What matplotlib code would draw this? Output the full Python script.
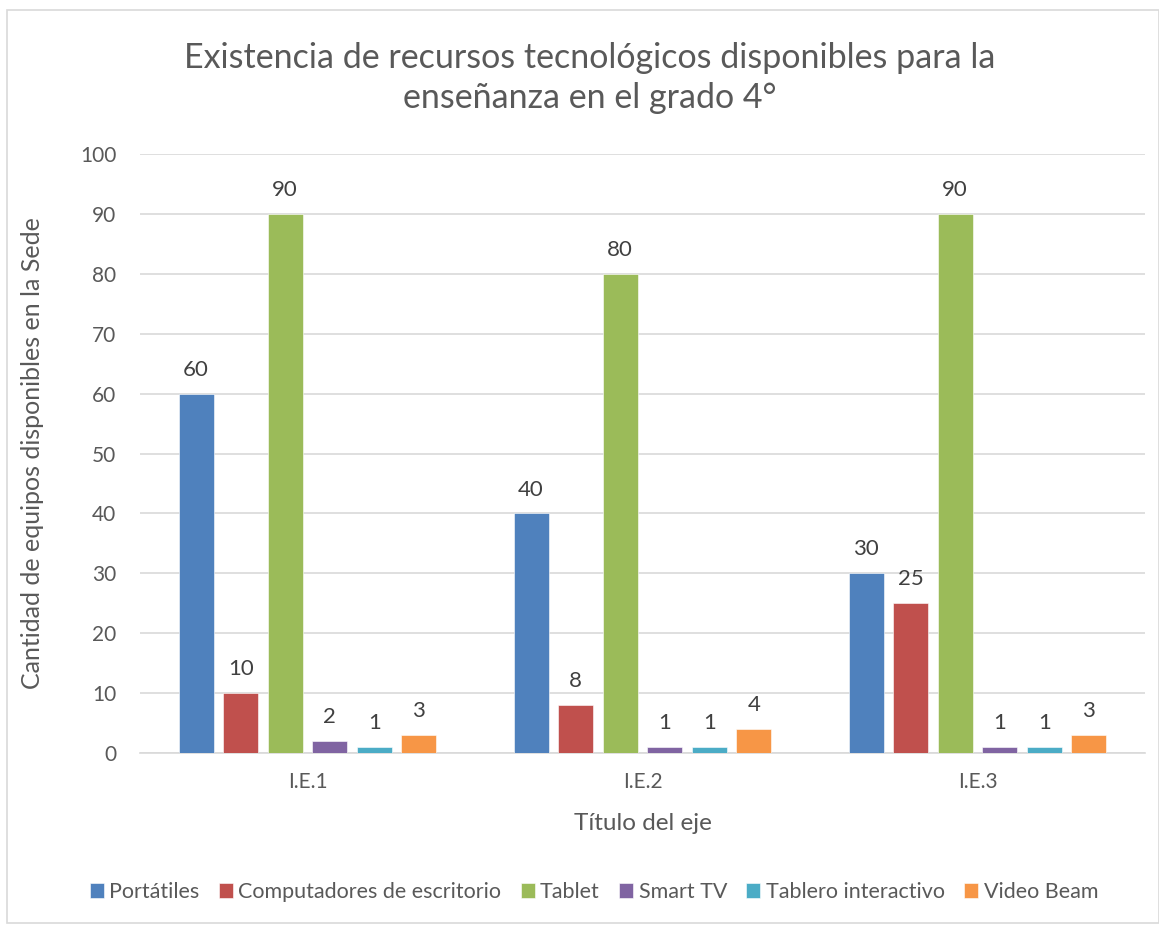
import matplotlib.pyplot as plt
import numpy as np
from matplotlib.patches import Rectangle

plt.rcParams['font.family'] = ['Lato', 'DejaVu Sans']

grupos = ['I.E.1', 'I.E.2', 'I.E.3']
series = ['Portátiles', 'Computadores de escritorio', 'Tablet', 'Smart TV',
          'Tablero interactivo', 'Video Beam']
portatiles = [60, 40, 30]
computadores = [10, 8, 25]
tablet = [90, 80, 90]
smart_tv = [2, 1, 1]
tablero = [1, 1, 1]
video_beam = [3, 4, 3]
colores = ['#4F81BD', '#C0504D', '#9BBB59', '#8064A2', '#4BACC6', '#F79646']

valores = [portatiles, computadores, tablet, smart_tv, tablero, video_beam]
gris = '#595959'

fig = plt.figure(figsize=(11.59, 9.26), dpi=100)
# chart border
fig.patches.append(Rectangle((7/1159, 0.003), 1 - 7/1159, 1 - 10/926 - 0.003,
                             transform=fig.transFigure, fill=False,
                             edgecolor='#d9d9d9', linewidth=1.2))

ax = fig.add_axes([140/1159, 1 - 753/926, 1005/1159, 599/926])
x = np.arange(len(grupos))
paso = 0.133
ancho = 0.104
for i, (nombre, vals) in enumerate(zip(series, valores)):
    pos = x + (i - 2.5) * paso
    barras = ax.bar(pos, vals, ancho, color=colores[i], label=nombre,
                    edgecolor='white', linewidth=0.4, zorder=3)
    for b, v in zip(barras, vals):
        ax.annotate(str(v), (b.get_x() + b.get_width() / 2, v),
                    xytext=(0, 10), textcoords='offset points',
                    ha='center', va='bottom', fontsize=16, color='#404040')

ax.set_xlim(-0.5, 2.5)
ax.set_ylim(0, 100)
ax.set_yticks(range(0, 101, 10))
ax.set_xticks(x)
ax.set_xticklabels(grupos)
ax.tick_params(length=0, labelsize=15, colors=gris)
ax.tick_params(axis='x', pad=14)
ax.tick_params(axis='y', pad=17)
ax.grid(axis='y', color='#d9d9d9', linewidth=1.2, zorder=0)
for s in ['top', 'right', 'left']:
    ax.spines[s].set_visible(False)
ax.spines['bottom'].set_color('#d9d9d9')
ax.spines['bottom'].set_linewidth(1.2)

ax.set_xlabel('Título del eje', fontsize=17.5, color=gris)
ax.xaxis.set_label_coords(0.5, -(823 - 753) / 599)
ax.set_ylabel('Cantidad de equipos disponibles en la Sede', fontsize=18,
              color=gris)
ax.yaxis.set_label_coords(-(140 - 33) / 1005, 0.5)
ax.xaxis.label.set_va('center')
ax.yaxis.label.set_va('center')

fig.text(590/1159, 1 - 78/926,
         'Existencia de recursos tecnológicos disponibles para la\nenseñanza en el grado 4°',
         ha='center', va='center', fontsize=24.5, color=gris, linespacing=1.3)

ax.legend(loc='center', bbox_to_anchor=(594/1159, 1 - 892/926),
          bbox_transform=fig.transFigure, ncol=6, frameon=False,
          fontsize=15.5, labelcolor=gris, handlelength=0.65, handleheight=0.65,
          handletextpad=0.25, columnspacing=0.9)

fig.savefig('out.png', dpi=100)
